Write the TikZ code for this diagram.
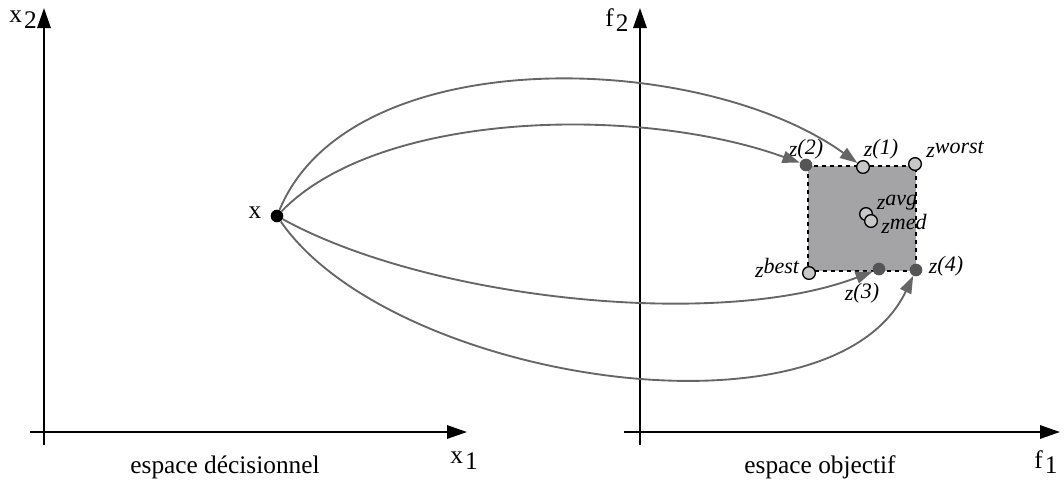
\documentclass[tikz,border=0pt]{standalone}
\usepackage{fontspec}
\setmainfont{Liberation Serif}
\usetikzlibrary{arrows.meta,positioning}
\definecolor{arrowgray}{HTML}{666666}
\definecolor{ptdark}{HTML}{555555}
\definecolor{ptlight}{HTML}{C8C8C8}
\definecolor{boxgray}{HTML}{A4A4A6}
\tikzset{
  space-axis/.style={line width=1.5pt, -{Triangle[length=15pt,width=10pt]}},
  map-arrow/.style={draw=arrowgray, line width=1.4pt, -{Triangle[length=13pt,width=9pt,fill=arrowgray]}},
  pt-dark/.style={circle, fill=ptdark, inner sep=0pt, minimum size=9.5pt},
  pt-light/.style={circle, draw=black, fill=ptlight, line width=1pt, inner sep=0pt, minimum size=9.5pt},
  pt-decision/.style={circle, fill=black, inner sep=0pt, minimum size=9.5pt},
  z-label/.style={font=\fontsize{16.5}{18}\selectfont\itshape, inner sep=0pt},
  axis-label/.style={font=\fontsize{19}{22}\selectfont, inner sep=0pt}
}
\newcommand{\zup}[1]{z\raisebox{0.4ex}{#1}}
\newcommand{\zidx}[1]{z\raisebox{0.2ex}{(#1)}}
\newcommand{\axsub}[2]{#1\kern1.5pt\raisebox{-0.5ex}{#2}}

\begin{document}
\begin{tikzpicture}[x=0.75pt, y=-0.75pt]
  \useasboundingbox (0,0) rectangle (1064,487);

  % decision space axes
  \draw[space-axis] (44,445) -- (44,8);
  \draw[space-axis] (30,432) -- (467,432);
  \node[axis-label] (x2lbl) at (23,20) {\axsub{x}{2}};
  \node[axis-label] (x1lbl) at (464,461) {\axsub{x}{1}};
  \node[axis-label] (dectxt) at (225,467) {espace décisionnel};

  % objective space axes
  \draw[space-axis] (640,445) -- (640,8);
  \draw[space-axis] (624,432) -- (1060,432);
  \node[axis-label] (f2lbl) at (617,20) {\axsub{f}{2}};
  \node[axis-label] (f1lbl) at (1046,462) {\axsub{f}{1}};
  \node[axis-label] (objtxt) at (820,467) {espace objectif};

  % bounding box of the images
  \draw[fill=boxgray, dashed, line width=0.9pt] (808,166) rectangle (916,271);

  % decision vector
  \node[pt-decision] (x) at (277,216) {};
  \node[axis-label] (xlbl) at (255,213) {x};

  % objective vectors
  \node[pt-dark] (z2) at (806,165) {};
  \node[pt-light] (z1) at (863,167) {};
  \node[pt-light] (zworst) at (915,164) {};
  \node[pt-light] (zavg) at (866,214) {};
  \node[pt-light] (zmed) at (871,221) {};
  \node[pt-light] (zbest) at (809,273) {};
  \node[pt-dark] (z3) at (879,269) {};
  \node[pt-dark] (z4) at (916,270) {};

  \node[z-label] at (806,149) {\zidx{2}};
  \node[z-label] at (881,149) {\zidx{1}};
  \node[z-label] at (955,149) {\zup{worst}};
  \node[z-label] at (897,203) {\zup{avg}};
  \node[z-label] at (904,224) {\zup{med}};
  \node[z-label] at (777,268) {\zup{best}};
  \node[z-label] at (946,266) {\zidx{4}};
  \node[z-label] at (862,293) {\zidx{3}};

  % mappings
  \draw[map-arrow] (x) .. controls (350,40) and (700,50) .. (z1);
  \draw[map-arrow] (x) .. controls (380,110) and (640,105) .. (z2);
  \draw[map-arrow] (x) .. controls (430,300) and (720,330) .. (z3);
  \draw[map-arrow] (x) .. controls (390,380) and (830,450) .. (z4);
\end{tikzpicture}
\end{document}
